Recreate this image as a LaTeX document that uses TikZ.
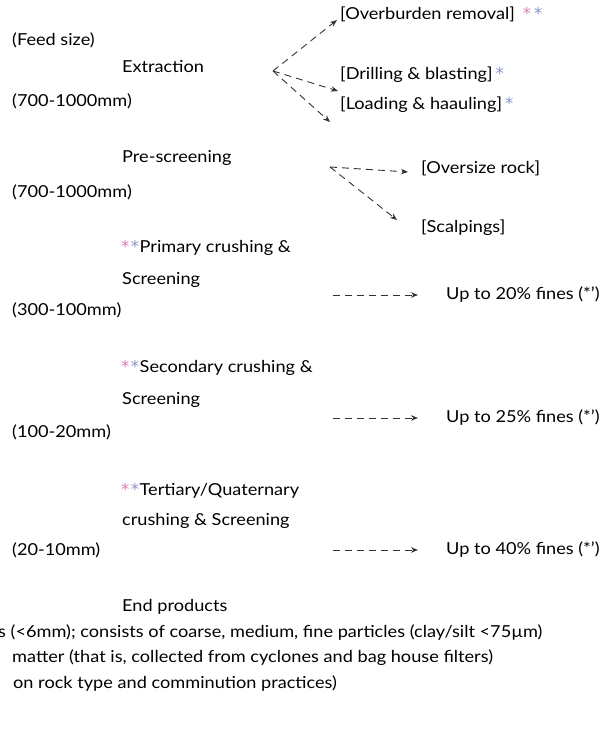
\documentclass[tikz,border=0pt]{standalone}
\usepackage{fontspec}
\setmainfont{Lato}[FakeStretch=1.1]
\newfontfamily\starfont{DejaVu Sans}
\usetikzlibrary{arrows.meta}
\definecolor{starpink}{HTML}{D77FB0}
\definecolor{starblue}{HTML}{8A93C8}
\tikzset{
  lbl/.style={anchor=west, inner sep=0pt, font=\fontsize{16.5}{19}\selectfont, text=black},
  flow/.style={dash pattern=on 7pt off 5pt, line width=0.9pt, black!80, -{Stealth[length=7pt,width=5.5pt]}},
}
\newcommand{\pst}{\textcolor{starpink}{\starfont *}}
\newcommand{\bst}{\textcolor{starblue}{\starfont *}}
\begin{document}
\begin{tikzpicture}[x=1pt,y=1pt]
\useasboundingbox (0,0) rectangle (603,732);
\begin{scope}
\clip (0,0) rectangle (603,732);
% left column
\node[lbl] (feed) at (12,692) {(Feed size)};
\node[lbl] (extr) at (122,665) {Extraction};
\node[lbl] (s1) at (12,631) {(700-1000mm)};
\node[lbl] (pre) at (122,574) {Pre-screening};
\node[lbl] (s2) at (12,540) {(700-1000mm)};
\node[lbl] (prim) at (121,484) {\pst\hspace{1.5pt}\bst\hspace{0.5pt}Primary crushing \&};
\node[lbl] (prim2) at (122,452) {Screening};
\node[lbl] (s3) at (12,422) {(300-100mm)};
\node[lbl] (sec) at (121,364) {\pst\hspace{1.5pt}\bst\hspace{0.5pt}Secondary crushing \&};
\node[lbl] (sec2) at (122,332) {Screening};
\node[lbl] (s4) at (12,300) {(100-20mm)};
\node[lbl] (ter) at (121,241) {\pst\hspace{1.5pt}\bst\hspace{0.5pt}Tertiary/Quaternary};
\node[lbl] (ter2) at (122,211) {crushing \& Screening};
\node[lbl] (s5) at (12,182) {(20-10mm)};
\node[lbl] (end) at (122,125) {End products};
% right column
\node[lbl] (over) at (340,718) {[Overburden removal]\hspace{8pt}\pst\hspace{3pt}\bst};
\node[lbl] (drill) at (340,657) {[Drilling \& blasting]\hspace{3pt}\bst};
\node[lbl] (load) at (340,627) {[Loading \& haauling]\hspace{3pt}\bst};
\node[lbl] (oversize) at (421,564) {[Oversize rock]};
\node[lbl] (scalp) at (421,504) {[Scalpings]};
\node[lbl] (f1) at (446,437) {Up to 20\% fines (*')};
\node[lbl] (f2) at (446,314) {Up to 25\% fines (*')};
\node[lbl] (f3) at (446,182) {Up to 40\% fines (*')};
% footnotes (cut at left edge, as in the reference)
\node[lbl] (n1) at (-2,99) {s (<6mm); consists of coarse, medium, fine particles (clay/silt <75µm)};
\node[lbl] (n2) at (12,74) {matter (that is, collected from cyclones and bag house filters)};
\node[lbl] (n3) at (13,48) {on rock type and comminution practices)};
\end{scope}
% connectors
\coordinate (o1) at (273,661);
\coordinate (e1) at (337,712);
\coordinate (e2) at (338,641);
\coordinate (e3) at (330,610);
\draw[flow] (o1) -- (e1);
\draw[flow] (o1) -- (e2);
\draw[flow] (o1) -- (e3);
\coordinate (o2) at (330,565);
\coordinate (e4) at (408,560);
\coordinate (e5) at (397,512);
\draw[flow] (o2) -- (e4);
\draw[flow] (o2) -- (e5);
\coordinate (o3) at (333,437);
\coordinate (o4) at (333,314);
\coordinate (o5) at (333,182);
\draw[flow] (o3) -- ([xshift=-28pt]f1.west);
\draw[flow] (o4) -- ([xshift=-28pt]f2.west);
\draw[flow] (o5) -- ([xshift=-28pt]f3.west);
\end{tikzpicture}
\end{document}
